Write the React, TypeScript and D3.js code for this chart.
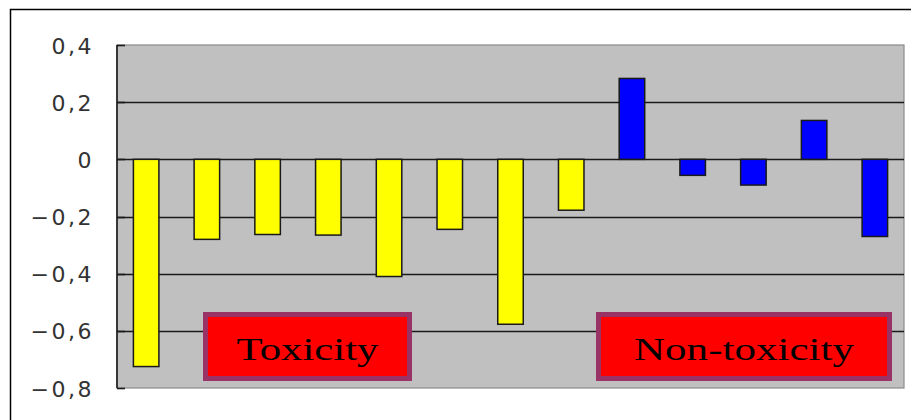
import React from "react";
import * as d3 from "d3";

// Compound scores: the first eight are toxic, the last five non-toxic
const categories = ["1", "2", "3", "4", "5", "6", "7", "8", "9", "10", "11", "12", "13"];
const values = [-0.725, -0.28, -0.263, -0.265, -0.41, -0.245, -0.577, -0.178, 0.283, -0.056, -0.09, 0.136, -0.27];
const groups = ["tox", "tox", "tox", "tox", "tox", "tox", "tox", "tox", "non", "non", "non", "non", "non"];
const yTicks = [0.4, 0.2, 0, -0.2, -0.4, -0.6, -0.8];
const boxLabels = ["Toxicity", "Non-toxicity"];

const W = 911;
const H = 420;
const plot = { left: 117, right: 904, top: 45, bottom: 388 };

export default function App() {
  const x = d3
    .scaleBand<string>()
    .domain(categories)
    .range([plot.left, plot.right])
    .paddingInner(0.58)
    .paddingOuter(0.27);
  const y = d3.scaleLinear().domain([-0.8, 0.4]).range([plot.bottom, plot.top]);
  const fmt = (v: number) => (v === 0 ? "0" : d3.format(".1f")(v).replace(".", ",").replace("-", "−"));

  // label boxes in pixel coordinates
  const boxes = [
    { label: boxLabels[0], x0: 203, x1: 412, tl: 142 },
    { label: boxLabels[1], x0: 596, x1: 892, tl: 220 },
  ];

  return (
    <div style={{ position: "fixed", left: 0, top: 0 }}>
      <svg width={W} height={H} style={{ display: "block", background: "#fff" }}>
        {/* chart frame (top and left edges visible) */}
        <path d={`M10.5,${H} V9.5 H${W}`} fill="none" stroke="#000" strokeWidth={1.5} />
        {/* plot area */}
        <rect
          x={plot.left}
          y={plot.top}
          width={plot.right - plot.left}
          height={plot.bottom - plot.top}
          fill="#c0c0c0"
          stroke="#8a8a8a"
          strokeWidth={1.2}
        />
        {/* gridlines */}
        {yTicks
          .filter((t) => t !== 0.4 && t !== -0.8)
          .map((t) => (
            <line
              key={"g" + t}
              x1={plot.left}
              x2={plot.right}
              y1={Math.round(y(t)) + 0.5}
              y2={Math.round(y(t)) + 0.5}
              stroke="#1a1a1a"
              strokeWidth={1.6}
            />
          ))}
        {/* bars */}
        {values.map((v, i) => {
          const y0 = y(0);
          const yv = y(v);
          return (
            <rect
              key={"b" + i}
              x={x(categories[i])!}
              y={Math.min(y0, yv)}
              width={x.bandwidth()}
              height={Math.abs(yv - y0)}
              fill={groups[i] === "tox" ? "#ffff00" : "#0000ff"}
              stroke="#1a1a1a"
              strokeWidth={1.5}
            />
          );
        })}
        {/* value axis */}
        <line x1={plot.left} x2={plot.left} y1={plot.top} y2={plot.bottom} stroke="#1a1a1a" strokeWidth={1.6} />
        {yTicks.map((t) => (
          <g key={"t" + t}>
            <line
              x1={plot.left}
              x2={plot.left + 8}
              y1={Math.round(y(t)) + 0.5}
              y2={Math.round(y(t)) + 0.5}
              stroke="#1a1a1a"
              strokeWidth={1.6}
            />
            <text
              x={94}
              y={y(t) + 8.5}
              textAnchor="end"
              fontFamily="'DejaVu Sans', sans-serif"
              fontSize={22}
              letterSpacing={2.5}
              fill="#333"
            >
              {fmt(t)}
            </text>
          </g>
        ))}
        {/* group label boxes */}
        {boxes.map((b) => (
          <g key={b.label}>
            <rect x={b.x0 + 2.5} y={314.5} width={b.x1 - b.x0 - 5} height={64} fill="#ff0000" stroke="#993366" strokeWidth={5} />
            <text
              x={(b.x0 + b.x1) / 2}
              y={360}
              textAnchor="middle"
              fontFamily="'Liberation Serif', 'DejaVu Serif', serif"
              fontSize={31}
              textLength={b.tl}
              lengthAdjust="spacingAndGlyphs"
              fill="#000"
            >
              {b.label}
            </text>
          </g>
        ))}
      </svg>
    </div>
  );
}
